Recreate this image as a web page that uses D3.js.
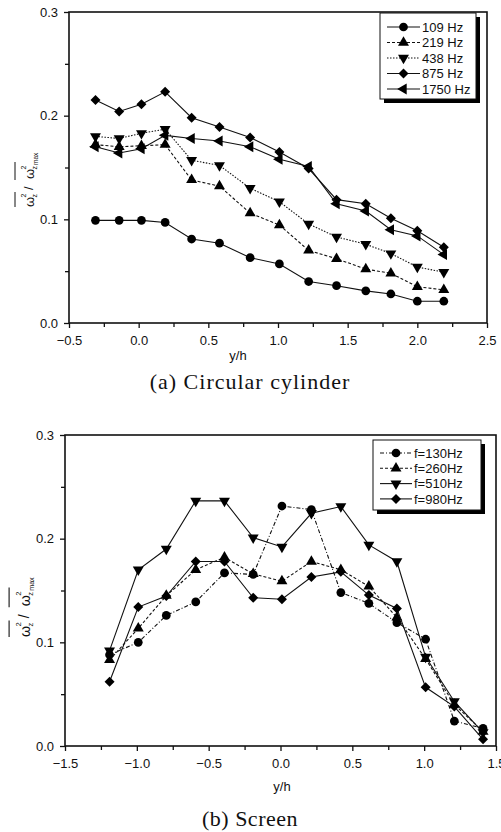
<!DOCTYPE html>
<html>
<head>
<meta charset="utf-8">
<script src="https://cdn.jsdelivr.net/npm/d3@7"></script>
<style>
  html, body { margin: 0; padding: 0; background: #fff; }
  svg { display: block; }
  .tick text { font-family: "Liberation Sans", Arial, sans-serif; font-size: 13px; fill: #111; }
</style>
</head>
<body>
<svg id="chart" width="501" height="832"></svg>
<script>
// ---------------- DATA ----------------
// (a) Circular cylinder
const xTop = [-0.31, -0.14, 0.02, 0.19, 0.38, 0.58, 0.80, 1.01, 1.22, 1.42, 1.63, 1.81, 2.00, 2.19];
const top109  = [0.099, 0.099, 0.099, 0.097, 0.081, 0.077, 0.063, 0.057, 0.040, 0.036, 0.031, 0.028, 0.021, 0.021];
const top219  = [0.172, 0.170, 0.171, 0.172, 0.138, 0.132, 0.106, 0.0945, 0.070, 0.062, 0.052, 0.048, 0.035, 0.032];
const top438  = [0.180, 0.178, 0.183, 0.187, 0.157, 0.152, 0.130, 0.117, 0.0955, 0.083, 0.076, 0.067, 0.054, 0.049];
const top875  = [0.215, 0.204, 0.211, 0.223, 0.198, 0.189, 0.179, 0.165, 0.149, 0.119, 0.115, 0.101, 0.089, 0.073];
const top1750 = [0.170, 0.164, 0.168, 0.181, 0.178, 0.1755, 0.170, 0.158, 0.151, 0.115, 0.108, 0.090, 0.084, 0.066];
const topLabels = ["109 Hz", "219 Hz", "438 Hz", "875 Hz", "1750 Hz"];
const topXTicks = [-0.5, 0.0, 0.5, 1.0, 1.5, 2.0, 2.5];
const topYTicks = [0.0, 0.1, 0.2, 0.3];
const topTitle = "(a) Circular cylinder";

// (b) Screen
const xBot = [-1.19, -0.99, -0.795, -0.59, -0.39, -0.19, 0.01, 0.215, 0.42, 0.615, 0.81, 1.01, 1.21, 1.41];
const bot130 = [0.088, 0.100, 0.126, 0.139, 0.167, 0.1655, 0.2315, 0.228, 0.148, 0.1376, 0.119, 0.103, 0.024, 0.017];
const bot260 = [0.083, 0.1135, 0.145, 0.170, 0.182, 0.166, 0.159, 0.178, 0.170, 0.154, 0.124, 0.084, 0.040, 0.014];
const bot510 = [0.092, 0.170, 0.190, 0.2365, 0.2365, 0.201, 0.192, 0.2245, 0.231, 0.194, 0.178, 0.086, 0.043, 0.013];
const bot980 = [0.062, 0.134, 0.1446, 0.178, 0.178, 0.143, 0.1415, 0.163, 0.168, 0.1456, 0.1327, 0.0566, 0.038, 0.0064];
const botLabels = ["f=130Hz", "f=260Hz", "f=510Hz", "f=980Hz"];
const botXTicks = [-1.5, -1.0, -0.5, 0.0, 0.5, 1.0, 1.5];
const botYTicks = [0.0, 0.1, 0.2, 0.3];
const botTitle = "(b) Screen";
const xLabel = "y/h";

// ---------------- DRAWING ----------------
const svg = d3.select("#chart");
const fmt = d3.format(".1f");

function marker(type) {
  const sym = d3.symbol();
  if (type === "circle") return { d: sym.type(d3.symbolCircle).size(60)(), rot: 0 };
  if (type === "up") return { d: sym.type(d3.symbolTriangle).size(52)(), rot: 0 };
  if (type === "down") return { d: sym.type(d3.symbolTriangle).size(52)(), rot: 180 };
  if (type === "left") return { d: sym.type(d3.symbolTriangle).size(52)(), rot: -90 };
  if (type === "diamond") return { d: sym.type(d3.symbolSquare).size(50)(), rot: 45 };
}

function drawPanel(cfg) {
  const g = svg.append("g");
  const x = d3.scaleLinear().domain(cfg.xDomain).range([cfg.left, cfg.right]);
  const y = d3.scaleLinear().domain([0, 0.3]).range([cfg.bottom, cfg.top]);

  // minor ticks
  const xMinor = [];
  for (let i = 0; i < cfg.xTicks.length - 1; i++) xMinor.push((cfg.xTicks[i] + cfg.xTicks[i + 1]) / 2);
  const yMinor = [0.05, 0.15, 0.25];

  g.append("g").attr("transform", `translate(0,${cfg.bottom})`)
    .call(d3.axisBottom(x).tickValues(cfg.xTicks).tickSize(5).tickPadding(8).tickFormat(fmt))
    .call(a => a.select(".domain").remove());
  g.append("g").attr("transform", `translate(0,${cfg.bottom})`)
    .call(d3.axisBottom(x).tickValues(xMinor).tickSize(4).tickFormat(""))
    .call(a => a.select(".domain").remove());
  g.append("g").attr("transform", `translate(${cfg.left},0)`)
    .call(d3.axisLeft(y).tickValues(cfg.yTicks).tickSize(5).tickPadding(6).tickFormat(fmt))
    .call(a => a.select(".domain").remove());
  g.append("g").attr("transform", `translate(${cfg.left},0)`)
    .call(d3.axisLeft(y).tickValues(yMinor).tickSize(4).tickFormat(""))
    .call(a => a.select(".domain").remove());
  g.selectAll(".tick line").attr("stroke", "#111").attr("stroke-width", 1.3);

  // frame
  g.append("rect").attr("x", cfg.left).attr("y", cfg.top)
    .attr("width", cfg.right - cfg.left).attr("height", cfg.bottom - cfg.top)
    .attr("fill", "none").attr("stroke", "#111").attr("stroke-width", 1.6);

  // series
  const line = d3.line().x(d => x(d[0])).y(d => y(d[1]));
  cfg.series.forEach(s => {
    const pts = cfg.xs.map((xv, i) => [xv, s.values[i]]);
    g.append("path").datum(pts).attr("d", line)
      .attr("fill", "none").attr("stroke", "#111").attr("stroke-width", 1.1)
      .attr("stroke-dasharray", s.dash || null);
    const m = marker(s.marker);
    g.selectAll(null).data(pts).enter().append("path")
      .attr("d", m.d)
      .attr("transform", d => `translate(${x(d[0])},${y(d[1])}) rotate(${m.rot})`)
      .attr("fill", "#000");
  });

  // legend
  const L = cfg.legend;
  g.append("rect").attr("x", L.x + 4).attr("y", L.y + 4).attr("width", L.w).attr("height", L.h).attr("fill", "#000");
  g.append("rect").attr("x", L.x).attr("y", L.y).attr("width", L.w).attr("height", L.h)
    .attr("fill", "#fff").attr("stroke", "#111").attr("stroke-width", 1);
  cfg.series.forEach((s, i) => {
    const ry = L.y0 + i * L.dy;
    g.append("line").attr("x1", L.lx1).attr("x2", L.lx2).attr("y1", ry).attr("y2", ry)
      .attr("stroke", "#111").attr("stroke-width", 1.1).attr("stroke-dasharray", s.dash || null);
    const m = marker(s.marker);
    g.append("path").attr("d", m.d).attr("transform", `translate(${(L.lx1 + L.lx2) / 2},${ry}) rotate(${m.rot})`).attr("fill", "#000");
    g.append("text").attr("x", L.tx).attr("y", ry).attr("dy", "0.36em")
      .attr("font-family", "Liberation Sans, Arial, sans-serif").attr("font-size", 13).attr("fill", "#111")
      .text(s.label);
  });

  // x label
  g.append("text").attr("x", cfg.xLabelPos[0]).attr("y", cfg.xLabelPos[1])
    .attr("text-anchor", "middle").attr("font-family", "Liberation Sans, Arial, sans-serif")
    .attr("font-size", 13).attr("fill", "#111").text(xLabel);

  // y label (rotated, with overlines)
  const yl = g.append("g").attr("transform", `translate(${cfg.yLabelPos[0]},${cfg.yLabelPos[1]}) rotate(-90) scale(${cfg.yLabelScale})`);
  const tf = "Liberation Sans, Arial, sans-serif";
  const piece = (txt, px, py, fs) => yl.append("text").attr("x", px).attr("y", py)
    .attr("font-family", tf).attr("font-size", fs).attr("fill", "#111").text(txt);
  piece("ω", 0, 0, 13); piece("z", 9.5, 3, 7); piece("2", 9.5, -8, 7);
  yl.append("line").attr("x1", 0).attr("x2", 15).attr("y1", -19).attr("y2", -19).attr("stroke", "#111").attr("stroke-width", 1);
  piece("/", 17, -1, 13);
  piece("ω", 28, 0, 13); piece("z", 37.5, 3, 7); piece("2", 37.5, -8, 7);
  piece("max", 42, 4, 6.5);
  yl.append("line").attr("x1", 27).attr("x2", 45).attr("y1", -19).attr("y2", -19).attr("stroke", "#111").attr("stroke-width", 1);

  // title
  g.append("text").attr("x", cfg.titlePos[0]).attr("y", cfg.titlePos[1])
    .attr("text-anchor", "middle").attr("font-family", "Liberation Serif, Times New Roman, serif")
    .attr("font-size", 22).attr("letter-spacing", cfg.titleSpacing).attr("fill", "#111").text(cfg.title);
}

drawPanel({
  xDomain: [-0.5, 2.5], left: 69, right: 487, top: 12, bottom: 323,
  xTicks: topXTicks, yTicks: topYTicks, xs: xTop,
  series: [
    { values: top109, marker: "circle", dash: null, label: topLabels[0] },
    { values: top219, marker: "up", dash: "3,2", label: topLabels[1] },
    { values: top438, marker: "down", dash: "1.5,1.5", label: topLabels[2] },
    { values: top875, marker: "diamond", dash: null, label: topLabels[3] },
    { values: top1750, marker: "left", dash: null, label: topLabels[4] }
  ],
  legend: { x: 380, y: 13, w: 96, h: 86, y0: 27, dy: 15.5, lx1: 387, lx2: 420, tx: 422 },
  xLabelPos: [238, 360], yLabelPos: [34, 207], yLabelScale: 1.0,
  title: topTitle, titlePos: [250, 389], titleSpacing: 1
});

drawPanel({
  xDomain: [-1.5, 1.5], left: 65, right: 496, top: 435, bottom: 746,
  xTicks: botXTicks, yTicks: botYTicks, xs: xBot,
  series: [
    { values: bot130, marker: "circle", dash: "4,2,1,2", label: botLabels[0] },
    { values: bot260, marker: "up", dash: "3,2", label: botLabels[1] },
    { values: bot510, marker: "down", dash: null, label: botLabels[2] },
    { values: bot980, marker: "diamond", dash: null, label: botLabels[3] }
  ],
  legend: { x: 373, y: 440, w: 108, h: 70, y0: 453, dy: 15.3, lx1: 380, lx2: 412, tx: 414 },
  xLabelPos: [282, 791], yLabelPos: [30, 637], yLabelScale: 1.1,
  title: botTitle, titlePos: [250, 826], titleSpacing: 0.5
});
</script>
</body>
</html>
